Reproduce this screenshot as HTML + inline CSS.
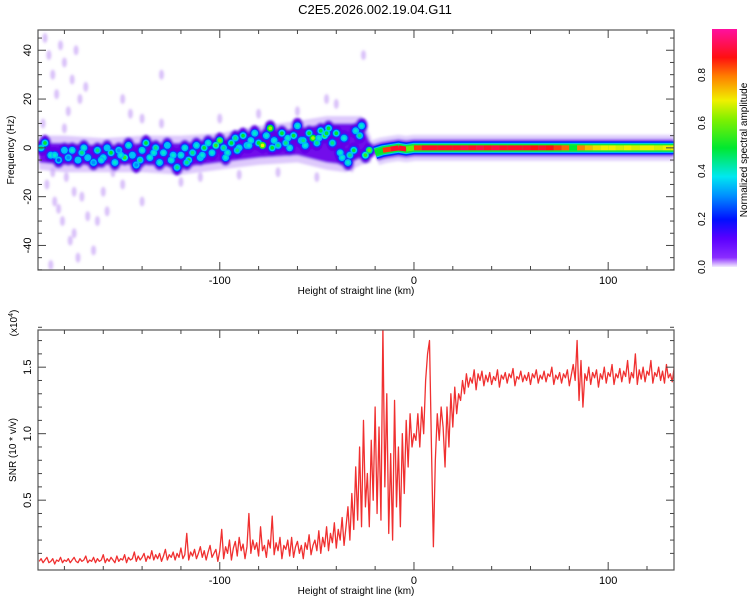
<!DOCTYPE html>
<html><head><meta charset="utf-8"><style>
html,body{margin:0;padding:0;background:#fff;}
svg text{font-family:"Liberation Sans",sans-serif;fill:#000;}
</style></head><body>
<svg id="chart" width="750" height="600" viewBox="0 0 750 600" xmlns="http://www.w3.org/2000/svg">
<defs>
<linearGradient id="cmap" x1="0" y1="1" x2="0" y2="0">
<stop offset="0" stop-color="#f4ecff"/><stop offset="0.04" stop-color="#8a2cff"/><stop offset="0.12" stop-color="#5a00ff"/><stop offset="0.2" stop-color="#0010ff"/><stop offset="0.3" stop-color="#0090ff"/><stop offset="0.38" stop-color="#00e8f0"/><stop offset="0.5" stop-color="#00e830"/><stop offset="0.62" stop-color="#80f000"/><stop offset="0.7" stop-color="#f0f000"/><stop offset="0.8" stop-color="#ff8000"/><stop offset="0.88" stop-color="#ff1010"/><stop offset="1" stop-color="#ff10a0"/>
</linearGradient>
<filter id="blur1" x="-50%" y="-50%" width="200%" height="200%"><feGaussianBlur stdDeviation="1.2"/></filter>
<clipPath id="clipTop"><rect x="38" y="30" width="636" height="240"/></clipPath>
<clipPath id="clipBot"><rect x="38" y="330" width="636" height="240"/></clipPath>
</defs>
<text x="375" y="14" font-size="13" text-anchor="middle">C2E5.2026.002.19.04.G11</text>
<g id="top"></g>
<g id="bot"></g>
<g id="cbar"></g>
</svg>
<script>
// ---- spectrogram data ----
const ridgeX  = [-193,-180,-160,-140,-120,-100,-80,-60,-45,-35,-27,-22];
const ridgeLo = [-8,-9,-9,-9,-10,-8,-6,-5,-8,-9,-6,-5];
const ridgeHi = [4,4,3,4,4,5,8,10,12,12,12,3];
const specX = [-192,-190,-187,-183,-180,-178,-176,-173,-170,-168,-165,-163,-160,-158,-156,-154,-152,-149,-147,-145,-143,-140,-138,-136,-133,-131,-129,-127,-125,-122,-120,-118,-116,-114,-112,-110,-108,-106,-104,-102,-100,-98,-96,-94,-92,-90,-88,-86,-84,-82,-80,-78,-76,-74,-72,-70,-68,-66,-64,-62,-60,-58,-56,-54,-52,-50,-48,-46,-44,-42,-40,-38,-36,-34,-33,-31,-30,-28,-27,-25,-23,-185,-171,-161,-151,-141,-134,-124,-117,-109,-97,-91,-85,-73,-65,-57,-49,-45,-37];
const specF = [0,2,-3,-5,-1,-4,-1,-5,0,-4,-6,-1,-4,0,-2,-6,-1,-4,1,-3,-7,-1,2,-4,0,-6,-2,1,-5,-8,-3,0,-5,-2,1,-4,0,2,-2,1,3,0,-2,2,4,0,5,1,3,6,2,1,5,8,3,1,6,2,0,5,9,3,1,6,4,2,7,5,8,2,6,-2,4,-6,-3,-1,7,5,9,-3,-1,-3,-2,-5,-3,-5,-2,-3,-6,-3,-4,-1,1,0,4,3,4,6,-4];
const specA = [0.35,0.4,0.3,0.15,0.25,0.2,0.3,0.25,0.3,0.25,0.2,0.35,0.3,0.25,0.4,0.3,0.2,0.45,0.3,0.25,0.2,0.3,0.4,0.3,0.35,0.3,0.3,0.25,0.3,0.35,0.3,0.3,0.4,0.35,0.3,0.25,0.4,0.3,0.3,0.45,0.5,0.35,0.3,0.4,0.35,0.3,0.4,0.35,0.3,0.3,0.4,0.6,0.3,0.55,0.3,0.35,0.4,0.35,0.3,0.4,0.3,0.35,0.3,0.4,0.55,0.35,0.4,0.45,0.4,0.35,0.4,0.3,0.3,0.3,0.35,0.4,0.3,0.35,0.3,0.45,0.5,0.3,0.35,0.3,0.3,0.35,0.3,0.3,0.35,0.3,0.3,0.35,0.3,0.4,0.3,0.35,0.3,0.4,0.3];
const faintX = [-190,-188,-186,-184,-182,-180,-178,-176,-174,-172,-189,-185,-181,-177,-173,-187,-183,-179,-175,-171,-168,-165,-160,-155,-150,-146,-140,-130,-120,-110,-100,-90,-80,-70,-60,-50,-45,-40,-32,-26,-191,-186,-180,-175,-169,-163,-158,-150,-140,-130];
const faintF = [45,38,30,22,42,35,15,28,40,20,-15,-22,-30,-38,-45,-48,-25,-12,-35,-20,-28,-42,-18,-10,-15,14,12,10,-14,-12,12,-11,14,-10,15,-12,20,18,-8,38,10,-10,8,-18,25,-30,-26,20,-22,30];
const bandX = [-20,-16,-12,-8,-4,0,4,8,12,16,20,24,28,32,36,40,44,48,52,56,60,64,68,72,76,80,84,88,92,96,100,104,108,112,116,120,124,128,132,134];
const bandF = [-2,-1,-0.5,0,-0.5,0,0,0,0,0,0,0,0,0,0,0,0,0,0,0,0,0,0,0,0,0,0,0,0,0,0,0,0,0,0,0,0,0,0,0];
const bandA = [0.5,0.85,0.9,0.9,0.6,0.85,0.9,0.9,0.9,0.9,0.9,0.92,0.9,0.92,0.9,0.92,0.9,0.9,0.9,0.9,0.88,0.9,0.88,0.85,0.82,0.5,0.8,0.75,0.72,0.7,0.7,0.68,0.7,0.68,0.7,0.7,0.68,0.7,0.7,0.7];
const xTicks = [-100,0,100];
const fTicks = [-40,-20,0,20,40];
const cTicks = [0.0,0.2,0.4,0.6,0.8];
// ---- SNR data (x10^4), 1 km steps starting at -193 ----
const snrStart = -193;
const snrVals = [
0.04,0.06,0.03,0.05,0.07,0.03,0.04,0.06,0.02,0.05,0.04,0.07,0.03,0.05,0.04,0.06,0.03,0.05,0.07,0.04,
0.03,0.06,0.04,0.05,0.08,0.03,0.05,0.04,0.07,0.03,0.06,0.04,0.05,0.09,0.03,0.06,0.04,0.07,0.05,0.03,
0.08,0.04,0.06,0.05,0.09,0.03,0.07,0.05,0.06,0.11,0.04,0.08,0.05,0.07,0.1,0.04,0.08,0.06,0.12,0.05,
0.09,0.06,0.1,0.04,0.08,0.13,0.05,0.09,0.07,0.11,0.05,0.1,0.07,0.14,0.06,0.09,0.25,0.05,0.11,0.08,
0.13,0.06,0.1,0.15,0.07,0.12,0.05,0.11,0.16,0.07,0.1,0.13,0.04,0.12,0.28,0.06,0.15,0.1,0.2,0.05,
0.14,0.19,0.08,0.22,0.12,0.17,0.06,0.15,0.4,0.1,0.2,0.13,0.18,0.08,0.3,0.12,0.16,0.07,0.2,0.14,
0.38,0.09,0.18,0.12,0.22,0.06,0.16,0.13,0.2,0.08,
0.22,0.07,0.15,0.19,0.1,0.16,0.06,0.18,0.13,0.24,0.09,0.16,0.2,0.12,0.27,0.1,0.22,0.15,0.3,0.12,
0.25,0.18,0.33,0.14,0.28,0.2,0.37,0.16,0.3,0.45,0.2,0.55,0.28,0.75,0.35,0.9,0.3,1.1,0.45,0.7,
0.3,0.95,0.5,1.2,0.4,1.05,0.35,1.8,0.6,1.3,0.25,0.85,0.2,1.25,0.45,0.9,0.3,1.0,0.55,1.1,
0.75,1.15,0.9,1.0,0.95,1.15,0.9,1.2,1.0,1.4,1.6,1.7,0.9,0.15,0.8,1.15,0.95,1.2,1.05,0.75,
1.2,0.9,1.3,1.05,1.35,1.15,1.3,1.25,1.4,1.3,1.45,1.35,1.42,1.38,1.48,1.33,1.45,1.4,1.47,1.36,
1.44,1.39,1.46,1.37,1.43,1.4,1.48,1.35,1.44,1.41,1.46,1.38,1.45,1.42,1.49,1.36,1.43,1.41,1.47,1.39,
1.44,1.4,1.46,1.37,1.45,1.42,1.48,1.38,1.44,1.41,1.47,1.39,1.45,1.43,1.5,1.37,1.44,1.41,1.46,1.38,
1.45,1.42,1.48,1.36,1.44,1.52,1.4,1.7,1.25,1.55,1.2,1.45,1.4,1.5,1.37,1.46,1.42,1.48,1.35,1.45,
1.41,1.5,1.38,1.46,1.43,1.52,1.37,1.45,1.42,1.49,1.39,1.47,1.43,1.55,1.38,1.46,1.42,1.6,1.37,1.48,
1.41,1.5,1.39,1.47,1.44,1.55,1.38,1.46,1.43,1.5,1.4,1.47,1.38,1.52,1.42,1.45,1.39,1.5,1.41,1.46];
const sTicks = [0.5,1.0,1.5];

const NS='http://www.w3.org/2000/svg';
const X0=38,X1=674;
const xs=v=>X0+(v+193.6)*1.942;
const yf=v=>30+(48.3-v)*2.44;
const ys=v=>570-(v+0.025)*133;
function mk(tag,attrs,parent){const e=document.createElementNS(NS,tag);for(const k in attrs)e.setAttribute(k,attrs[k]);parent.appendChild(e);return e;}
function cmap(a){
 const st=[[0,[244,236,255]],[0.04,[138,44,255]],[0.12,[90,0,255]],[0.2,[0,16,255]],[0.3,[0,144,255]],[0.38,[0,232,240]],[0.5,[0,232,48]],[0.62,[128,240,0]],[0.7,[240,240,0]],[0.8,[255,128,0]],[0.88,[255,16,16]],[1,[255,16,160]]];
 for(let i=1;i<st.length;i++){if(a<=st[i][0]){const t=(a-st[i-1][0])/(st[i][0]-st[i-1][0]);const c=st[i-1][1].map((v,j)=>Math.round(v+(st[i][1][j]-v)*t));return 'rgb('+c.join(',')+')';}}
 return 'rgb(255,16,160)';
}
const topG=document.getElementById('top'), botG=document.getElementById('bot'), cbG=document.getElementById('cbar');

// ---- top panel ----
const tg=mk('g',{'clip-path':'url(#clipTop)'},topG);
const fg=mk('g',{filter:'url(#blur1)'},tg);
faintX.forEach((x,i)=>{
 const e=mk('ellipse',{cx:xs(x),cy:yf(faintF[i]),rx:2.5,ry:5,fill:'rgba(160,100,240,0.4)'},fg);
 
 
});
let pts=ridgeX.map((x,i)=>xs(x)+','+yf(ridgeHi[i]+1)).concat(ridgeX.slice().reverse().map((x,i)=>xs(x)+','+yf(ridgeLo[ridgeLo.length-1-i]-1)));
const halo=mk('polygon',{points:pts.join(' '),fill:'rgba(200,165,250,0.6)'},fg);


let pts2=ridgeX.map((x,i)=>xs(x)+','+yf(ridgeHi[i]-2)).concat(ridgeX.slice().reverse().map((x,i)=>xs(x)+','+yf(ridgeLo[ridgeLo.length-1-i]+2)));
const core=mk('polygon',{points:pts2.join(' '),fill:'rgb(115,10,235)'},fg);


specX.forEach((x,i)=>{
 mk('ellipse',{cx:xs(x),cy:yf(specF[i]),rx:6,ry:8,fill:'rgb(95,0,230)'},fg);
});
specX.forEach((x,i)=>{
 mk('circle',{cx:xs(x),cy:yf(specF[i]),r:4.6,fill:'#1038ff'},tg);
});
specX.forEach((x,i)=>{
 const px=xs(x),py=yf(specF[i]);
 mk('circle',{cx:px,cy:py,r:3.4,fill:cmap(Math.max(0.34,specA[i]-0.05))},tg);
 const d=mk('circle',{cx:px,cy:py,r:1.8,fill:cmap(specA[i]+0.1)},tg);
 
 
});
const bandLine=(w,col,op,filt)=>mk('polyline',{points:bandX.map((x,i)=>xs(x)+','+yf(bandF[i])).join(' '),fill:'none',stroke:col,'stroke-width':w,'stroke-opacity':op},filt?fg:tg);
const b1=bandLine(26,'#d8c4fb',0.8,true);


bandLine(17,'#7a20ee',1,true);
bandLine(13,'#0030ff',1,false);
bandLine(10,'#00c8f8',1,false);
bandLine(8,'#10e840',1,false);
for(let i=0;i<bandX.length-1;i++){
 const s=mk('line',{x1:xs(bandX[i]),y1:yf(bandF[i]),x2:xs(bandX[i+1]),y2:yf(bandF[i+1]),stroke:cmap(bandA[i]),'stroke-width':5},tg);
 
 
}
function frame(g,y0,y1){
 mk('rect',{x:X0,y:y0,width:X1-X0,height:y1-y0,fill:'none',stroke:'#555','stroke-width':1.2},g);
 for(let v=-180;v<=130;v+=20){const x=xs(v);const L=(v%100===0)?8:4;
  mk('line',{x1:x,y1:y1,x2:x,y2:y1-L,stroke:'#444'},g);mk('line',{x1:x,y1:y0,x2:x,y2:y0+L,stroke:'#444'},g);}
}
frame(topG,30,270);
for(let v=-50;v<=45;v+=5){const y=yf(v);if(y<30||y>270)continue;const L=(v%20===0)?8:4;
 mk('line',{x1:X0,y1:y,x2:X0+L,y2:y,stroke:'#444'},topG);mk('line',{x1:X1,y1:y,x2:X1-L,y2:y,stroke:'#444'},topG);}
xTicks.forEach(v=>{const t=mk('text',{x:xs(v),y:284,'font-size':11,'text-anchor':'middle'},topG);t.textContent=v;
 });
fTicks.forEach(v=>{const y=yf(v);const t=mk('text',{x:0,y:0,'font-size':11,'text-anchor':'middle',transform:'translate(31,'+y+') rotate(-90)'},topG);t.textContent=v;
 });
let tt=mk('text',{x:356,y:294,'font-size':10,'text-anchor':'middle'},topG);tt.textContent='Height of straight line (km)';

tt=mk('text',{x:0,y:0,'font-size':10,'text-anchor':'middle',transform:'translate(14,150) rotate(-90)'},topG);tt.textContent='Frequency (Hz)';


// ---- colorbar ----
const cbr=mk('rect',{x:712,y:29,width:25,height:238,fill:'url(#cmap)'},cbG);

const cby=v=>267-v*240;
cTicks.forEach(v=>{const t=mk('text',{x:0,y:0,'font-size':10,'text-anchor':'middle',transform:'translate(705,'+cby(v)+') rotate(-90)'},cbG);t.textContent=v.toFixed(1);
 });
tt=mk('text',{x:0,y:0,'font-size':10,'text-anchor':'middle',transform:'translate(747,150) rotate(-90)'},cbG);tt.textContent='Normalized spectral amplitude';


// ---- bottom panel ----
const bg=mk('g',{'clip-path':'url(#clipBot)'},botG);
const lp=snrVals.map((v,i)=>xs(snrStart+i)+','+ys(v)).join(' ');
const line=mk('polyline',{points:lp,fill:'none',stroke:'#f03030','stroke-width':1.3,'stroke-linejoin':'round'},bg);

frame(botG,330,570);
for(let k=1;k<=18;k++){const v=k/10;const y=ys(v);const L=(k%5===0)?8:4;
 mk('line',{x1:X0,y1:y,x2:X0+L,y2:y,stroke:'#444'},botG);mk('line',{x1:X1,y1:y,x2:X1-L,y2:y,stroke:'#444'},botG);}
xTicks.forEach(v=>{const t=mk('text',{x:xs(v),y:584,'font-size':11,'text-anchor':'middle'},botG);t.textContent=v;
 });
sTicks.forEach(v=>{const t=mk('text',{x:0,y:0,'font-size':11,'text-anchor':'middle',transform:'translate(31,'+ys(v)+') rotate(-90)'},botG);t.textContent=v.toFixed(1);
 });
tt=mk('text',{x:356,y:594,'font-size':10,'text-anchor':'middle'},botG);tt.textContent='Height of straight line (km)';

tt=mk('text',{x:0,y:0,'font-size':10,'text-anchor':'middle',transform:'translate(16,450) rotate(-90)'},botG);tt.textContent='SNR (10 * v/v)';

tt=mk('text',{x:0,y:0,'font-size':10,'text-anchor':'middle',transform:'translate(17,323) rotate(-90)'},botG);
tt.innerHTML='(x10<tspan font-size="7" dy="-4">4</tspan><tspan dy="4">)</tspan>';

</script>
</body></html>
